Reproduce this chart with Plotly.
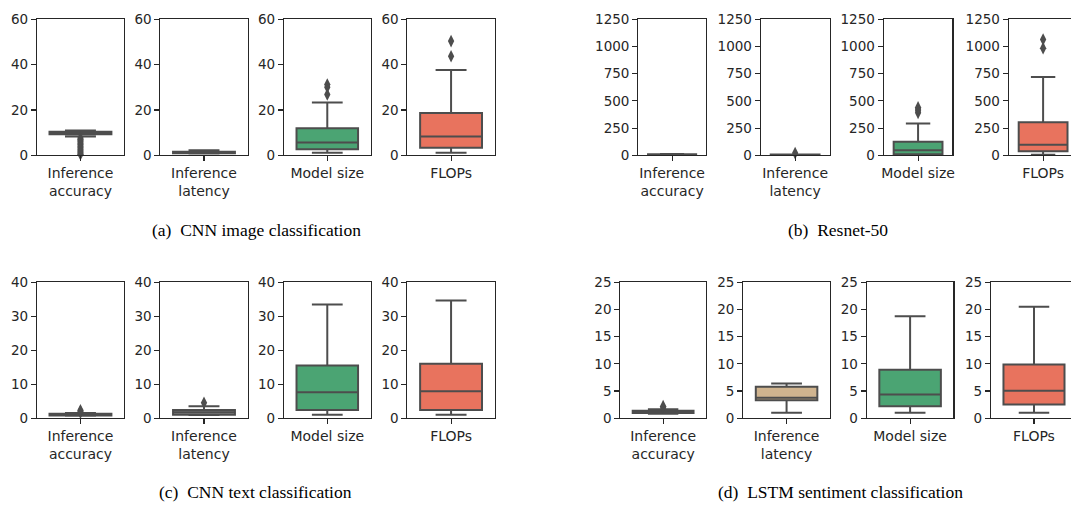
import plotly.graph_objects as go

# ---------------- data ----------------
metrics = ["Inference<br>accuracy", "Inference<br>latency", "Model size", "FLOPs"]
captions = ["(a)  CNN image classification", "(b)  Resnet-50",
            "(c)  CNN text classification", "(d)  LSTM sentiment classification"]

a_q1 = [9.3, 0.9, 2.6, 3.3]
a_median = [9.9, 1.2, 5.6, 8.3]
a_q3 = [10.4, 1.5, 11.9, 18.7]
a_low = [8.3, 0.8, 1.1, 1.1]
a_high = [10.9, 2.2, 23.3, 37.6]
a_outliers = [[7.6, 7.0, 6.4, 5.8, 5.2, 4.6, 4.0, 3.4, 2.8, 2.2, 1.6, 1.0, 0.5],
              [], [26.8, 30.0, 31.2], [43.7, 50.4]]

b_q1 = [3, 2, 9, 36]
b_median = [6, 4, 45, 96]
b_q3 = [9, 6, 125, 304]
b_low = [1, 1, 1, 5]
b_high = [11, 8, 292, 720]
b_outliers = [[], [20], [390, 410, 425, 440], [985, 1065]]

c_q1 = [0.8, 0.95, 2.4, 2.4]
c_median = [1.0, 1.7, 7.6, 7.9]
c_q3 = [1.25, 2.4, 15.5, 16.0]
c_low = [0.7, 0.9, 0.95, 0.95]
c_high = [1.5, 3.5, 33.5, 34.7]
c_outliers = [[1.6, 2.0, 2.3], [4.5], [], []]

d_q1 = [0.95, 3.27, 2.2, 2.5]
d_median = [1.1, 3.75, 4.34, 5.05]
d_q3 = [1.35, 5.8, 8.9, 9.9]
d_low = [0.8, 1.0, 1.0, 1.0]
d_high = [1.65, 6.36, 18.75, 20.5]
d_outliers = [[1.9, 2.2], [], [], []]

y_max = [60, 1250, 40, 25]
y_step = [20, 250, 10, 5]

# ---------------- style / layout ----------------
W, H = 1073, 513
GREY_LINE = "#4d4d4d"
TXT = "#262626"
fills = [
    ["#7a7a7a", "#8c8c8c", "#4BA473", "#E8735E"],
    ["#7a7a7a", "#8c8c8c", "#4BA473", "#E8735E"],
    ["#7a7a7a", "#8c8c8c", "#4BA473", "#E8735E"],
    ["#7a7a7a", "#D0B48F", "#4BA473", "#E8735E"],
]
# pixel x-extents of each axes (left, right) per panel
x_px = [
    [(35, 122.5), (159, 246.5), (283, 370), (407, 494.5)],
    [(638.6, 706.6), (761.6, 830.6), (885, 954), (1010.5, 1079.5)],
    [(35, 122.5), (159, 246.5), (283, 370), (407, 494.5)],
    [(620.6, 706.6), (744, 831), (868, 955), (992.7, 1079)],
]
y_px = [(11.7, 152), (11.7, 152), (283.3, 423.3), (283.3, 423.3)]
cap_pos = [(255, 229), (839, 229), (254, 500), (842, 500)]

panels = [
    (a_q1, a_median, a_q3, a_low, a_high, a_outliers),
    (b_q1, b_median, b_q3, b_low, b_high, b_outliers),
    (c_q1, c_median, c_q3, c_low, c_high, c_outliers),
    (d_q1, d_median, d_q3, d_low, d_high, d_outliers),
]

fig = go.Figure()
layout = dict(
    width=W, height=H, margin=dict(l=0, r=0, t=0, b=0),
    paper_bgcolor="white", plot_bgcolor="white", showlegend=False,
    font=dict(family="DejaVu Sans", size=13.5, color=TXT),
)
annotations = []

idx = 0
for p, (q1, med, q3, lo, hi, outs) in enumerate(panels):
    for m in range(4):
        idx += 1
        xs = "x" if idx == 1 else f"x{idx}"
        ys = "y" if idx == 1 else f"y{idx}"
        fig.add_trace(go.Box(
            x=[0], q1=[q1[m]], median=[med[m]], q3=[q3[m]],
            lowerfence=[lo[m]], upperfence=[hi[m]],
            orientation="v", width=0.71, whiskerwidth=0.5,
            fillcolor=fills[p][m], line=dict(color=GREY_LINE, width=2),
            boxpoints=False, xaxis=xs, yaxis=ys, hoverinfo="skip",
        ))
        if outs[m]:
            fig.add_trace(go.Scatter(
                x=[0] * len(outs[m]), y=outs[m], mode="markers",
                marker=dict(symbol="diamond-tall", size=9, color=GREY_LINE,
                            line=dict(width=0)),
                xaxis=xs, yaxis=ys, hoverinfo="skip", cliponaxis=False,
            ))
        l, r = x_px[p][m]
        wpx = r - l
        clipped = r > W
        r_eff = min(r, W)
        xr_hi = -0.5 + (r_eff - l) / wpx
        t, b = y_px[p]
        xkey = "xaxis" if idx == 1 else f"xaxis{idx}"
        ykey = "yaxis" if idx == 1 else f"yaxis{idx}"
        layout[xkey] = dict(
            domain=[l / W, r_eff / W], range=[-0.5, xr_hi], anchor=ys,
            tickvals=[0], ticktext=[metrics[m]], ticks="outside", ticklen=5,
            tickwidth=1.1, tickcolor=TXT, showline=True, linecolor=TXT,
            linewidth=1.1, mirror=True, showgrid=False, zeroline=False,
            tickfont=dict(family="DejaVu Sans", size=14, color=TXT),
            fixedrange=True,
        )
        layout[ykey] = dict(
            domain=[1 - b / H, 1 - t / H], range=[0, y_max[p]], anchor=xs,
            tickmode="linear", tick0=0, dtick=y_step[p],
            ticks="outside", ticklen=5, tickwidth=1.1, tickcolor=TXT,
            showline=True, linecolor=TXT, linewidth=1.1,
            mirror=(not clipped), showgrid=False, zeroline=False,
            tickfont=dict(family="DejaVu Sans", size=13.5, color=TXT),
            fixedrange=True,
        )
    cx, cy = cap_pos[p]
    annotations.append(dict(
        text=captions[p], x=cx / W, y=1 - cy / H, xref="paper", yref="paper",
        showarrow=False, xanchor="center", yanchor="middle",
        font=dict(family="Liberation Serif", size=17.5, color="black"),
    ))

layout["annotations"] = annotations
fig.update_layout(**layout)
fig.write_html(
    "out.html",
    config={"displayModeBar": False, "staticPlot": True},
    post_script="document.body.style.margin='0';document.body.style.overflow='hidden';",
)
